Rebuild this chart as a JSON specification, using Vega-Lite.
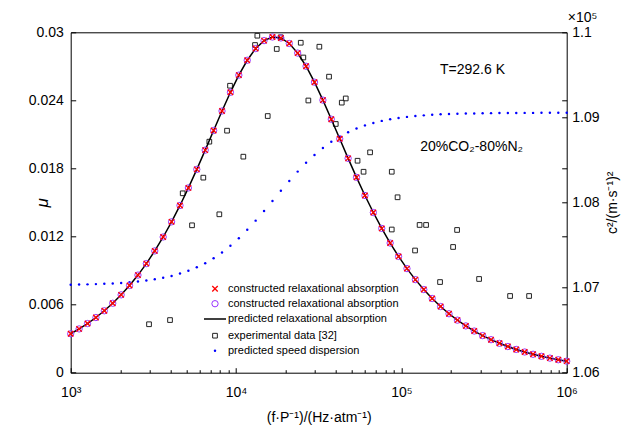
{
"$schema": "https://vega.github.io/schema/vega-lite/v6.json",
"width": 496, "height": 340.4,
"autosize": {"type": "none"},
"padding": {"left": 70.7, "top": 32.3, "right": 60.3, "bottom": 57.3},
"title": {"text": "×10⁵", "anchor": "end", "align": "left", "frame": "group", "dx": 1, "offset": 0, "fontSize": 14, "fontWeight": "normal", "font": "Liberation Sans", "color": "black"},
"datasets": {
"model": [
{"f":1000,"mu":0.003434,"c2":1.07034},{"f":1124.2,"mu":0.003858,"c2":1.07036},{"f":1263.8,"mu":0.004332,"c2":1.07038},{"f":1420.8,"mu":0.004863,"c2":1.07041},{"f":1597.3,"mu":0.005457,"c2":1.07045},{"f":1795.7,"mu":0.006121,"c2":1.07049},{"f":2018.8,"mu":0.006862,"c2":1.07055},{"f":2269.5,"mu":0.007687,"c2":1.07063},{"f":2551.4,"mu":0.008603,"c2":1.07072},{"f":2868.3,"mu":0.009616,"c2":1.07083},
{"f":3224.6,"mu":0.010734,"c2":1.07098},{"f":3625.1,"mu":0.01196,"c2":1.07115},{"f":4075.4,"mu":0.013296,"c2":1.07137},{"f":4581.6,"mu":0.01474,"c2":1.07165},{"f":5150.7,"mu":0.016286,"c2":1.07198},{"f":5790.5,"mu":0.017918,"c2":1.07238},{"f":6509.7,"mu":0.019616,"c2":1.07287},{"f":7318.3,"mu":0.021345,"c2":1.07345},{"f":8227.3,"mu":0.023063,"c2":1.07413},{"f":9249.2,"mu":0.024711,"c2":1.07491},
{"f":10398,"mu":0.026225,"c2":1.0758},{"f":11690,"mu":0.027535,"c2":1.07679},{"f":13142,"mu":0.028569,"c2":1.07787},{"f":14774,"mu":0.029266,"c2":1.07901},{"f":16609,"mu":0.029584,"c2":1.08018},{"f":18672,"mu":0.029498,"c2":1.08137},{"f":20991,"mu":0.029015,"c2":1.08253},{"f":23599,"mu":0.028168,"c2":1.08363},{"f":26530,"mu":0.027009,"c2":1.08466},{"f":29825,"mu":0.025604,"c2":1.08558},
{"f":33530,"mu":0.024025,"c2":1.08641},{"f":37695,"mu":0.02234,"c2":1.08713},{"f":42377,"mu":0.020612,"c2":1.08774},{"f":47640,"mu":0.018891,"c2":1.08826},{"f":53557,"mu":0.017217,"c2":1.0887},{"f":60210,"mu":0.015619,"c2":1.08906},{"f":67688,"mu":0.014116,"c2":1.08935},{"f":76096,"mu":0.012716,"c2":1.08959},{"f":85548,"mu":0.011427,"c2":1.08978},{"f":96173,"mu":0.010248,"c2":1.08994},
{"f":108119,"mu":0.009175,"c2":1.09006},{"f":121548,"mu":0.008203,"c2":1.09016},{"f":136646,"mu":0.007327,"c2":1.09024},{"f":153618,"mu":0.006539,"c2":1.09031},{"f":172699,"mu":0.005831,"c2":1.09036},{"f":194150,"mu":0.005197,"c2":1.0904},{"f":218265,"mu":0.004631,"c2":1.09043},{"f":245376,"mu":0.004124,"c2":1.09045},{"f":275854,"mu":0.003672,"c2":1.09047},{"f":310118,"mu":0.003269,"c2":1.09049},
{"f":348637,"mu":0.00291,"c2":1.0905},{"f":391941,"mu":0.00259,"c2":1.09051},{"f":440624,"mu":0.002305,"c2":1.09052},{"f":495354,"mu":0.002051,"c2":1.09052},{"f":556882,"mu":0.001825,"c2":1.09053},{"f":626052,"mu":0.001623,"c2":1.09053},{"f":703814,"mu":0.001444,"c2":1.09054},{"f":791234,"mu":0.001285,"c2":1.09054},{"f":889512,"mu":0.001143,"c2":1.09054},{"f":1000000,"mu":0.001017,"c2":1.09055}
],
"exp": [
{"f":2977,"mu":0.00427},{"f":3988,"mu":0.00464},{"f":4758,"mu":0.01581},{"f":5418,"mu":0.01299},{"f":6341,"mu":0.01719},{"f":6894,"mu":0.02036},{"f":7925,"mu":0.01396},{"f":8822,"mu":0.02133},{"f":9199,"mu":0.02529},{"f":11070,"mu":0.01904},
{"f":13029,"mu":0.02888},{"f":13455,"mu":0.0297},{"f":15550,"mu":0.02262},{"f":17630,"mu":0.02853},{"f":18640,"mu":0.02956},{"f":24630,"mu":0.02908},{"f":25530,"mu":0.02778},{"f":27380,"mu":0.02399},{"f":31910,"mu":0.02873},{"f":36520,"mu":0.02609},
{"f":40100,"mu":0.02192},{"f":43600,"mu":0.0238},{"f":46090,"mu":0.02417},{"f":54330,"mu":0.01868},{"f":59060,"mu":0.01771},{"f":64680,"mu":0.01942},{"f":87480,"mu":0.01771},{"f":94840,"mu":0.01546},{"f":87480,"mu":0.01262},{"f":121000,"mu":0.01077},
{"f":128900,"mu":0.01302},{"f":141100,"mu":0.01302},{"f":171400,"mu":0.00799},{"f":205500,"mu":0.01108},{"f":217300,"mu":0.01258},{"f":295200,"mu":0.00826},{"f":454600,"mu":0.00676},{"f":592400,"mu":0.00676}
],
"notes": [
{"f":269300,"mu":0.02668,"label":"T=292.6 K"},
{"f":265900,"mu":0.01989,"label":"20%CO₂-80%N₂"}
]
},
"layer": [
{
"data": {"name": "exp"},
"mark": {"type": "point", "shape": "square", "filled": false, "size": 22, "strokeWidth": 1, "opacity": 1},
"encoding": {
"x": {"field": "f", "type": "quantitative",
"scale": {"type": "log", "domain": [1000, 1000000], "nice": false},
"axis": {"values": [1000,2000,3000,4000,5000,6000,7000,8000,9000,10000,20000,30000,40000,50000,60000,70000,80000,90000,100000,200000,300000,400000,500000,600000,700000,800000,900000,1000000],
"labelExpr": "datum.value == 1000 ? '10³' : datum.value == 10000 ? '10⁴' : datum.value == 100000 ? '10⁵' : datum.value == 1000000 ? '10⁶' : ''",
"tickSize": {"condition": {"test": "datum.value == 1000 || datum.value == 10000 || datum.value == 100000 || datum.value == 1000000", "value": -5}, "value": -3},
"labelPadding": 18, "labelOverlap": false, "labelFlush": false, "domain": false,
"title": "(f·P⁻¹)/(Hz·atm⁻¹)", "titleY": 45, "titleBaseline": "middle"}},
"y": {"field": "mu", "type": "quantitative",
"scale": {"domain": [0, 0.03], "nice": false, "zero": false},
"axis": {"values": [0, 0.006, 0.012, 0.018, 0.024, 0.03], "format": "~g", "tickSize": -5, "labelPadding": 12.4, "domain": false,
"title": "μ", "titleFontStyle": "italic", "titleFontSize": 17, "titleX": -28, "titleY": 170, "titleAngle": 270, "titleBaseline": "middle", "titleAlign": "center"}},
"color": {"datum": "experimental data [32]", "type": "nominal", "scale": {"range": ["#222222"]},
"legend": {"title": null, "orient": "none", "legendX": 138.8, "legendY": 297.9, "symbolType": "square", "symbolSize": 22, "symbolStrokeWidth": 1, "labelOffset": 7.5}}
}
},
{
"data": {"name": "model"},
"mark": {"type": "point", "shape": "circle", "filled": true, "size": 6, "opacity": 1},
"encoding": {
"x": {"field": "f", "type": "quantitative"},
"y": {"field": "c2", "type": "quantitative",
"scale": {"domain": [1.06, 1.1], "nice": false, "zero": false},
"axis": {"orient": "right", "values": [1.06, 1.07, 1.08, 1.09, 1.1], "format": "~g", "tickSize": -5, "labelPadding": 10, "domain": false,
"title": "c²/(m·s⁻¹)²", "titleAngle": 270, "titleX": 46, "titleY": 170, "titleBaseline": "middle", "titleAlign": "center"}},
"color": {"datum": "predicted speed dispersion", "type": "nominal", "scale": {"range": ["#0000ff"]},
"legend": {"title": null, "orient": "none", "legendX": 138.8, "legendY": 312.9, "symbolType": "circle", "symbolSize": 6, "labelOffset": 7.5}}
}
},
{
"data": {"name": "model"},
"mark": {"type": "line", "strokeWidth": 1.5},
"encoding": {
"x": {"field": "f", "type": "quantitative"},
"y": {"field": "mu", "type": "quantitative",
"scale": {"domain": [0, 0.03], "nice": false, "zero": false},
"axis": {"orient": "right", "values": [0.006, 0.012, 0.018, 0.024], "labels": false, "tickSize": -5, "domain": false, "title": null}},
"color": {"datum": "predicted relaxational absorption", "type": "nominal", "scale": {"range": ["#000000"]},
"legend": {"title": null, "orient": "none", "legendX": 132.3, "legendY": 274.7, "symbolType": "stroke", "symbolSize": 484, "symbolStrokeWidth": 1.5, "labelOffset": 1}}
}
},
{
"data": {"name": "model"},
"mark": {"type": "point", "shape": "circle", "filled": false, "size": 40, "strokeWidth": 1, "opacity": 1},
"encoding": {
"x": {"field": "f", "type": "quantitative"},
"y": {"field": "mu", "type": "quantitative", "scale": {"domain": [0, 0.03], "nice": false, "zero": false}, "axis": null},
"color": {"datum": "constructed relaxational absorption", "type": "nominal", "scale": {"range": ["#9933ff"]},
"legend": {"title": null, "orient": "none", "legendX": 138.8, "legendY": 265.9, "symbolType": "circle", "symbolSize": 40, "symbolStrokeWidth": 1, "labelOffset": 7.5}}
}
},
{
"data": {"name": "model"},
"mark": {"type": "point", "shape": "M-1,-1L1,1M-1,1L1,-1", "filled": false, "size": 30, "strokeWidth": 1.3, "opacity": 1},
"encoding": {
"x": {"field": "f", "type": "quantitative"},
"y": {"field": "mu", "type": "quantitative", "scale": {"domain": [0, 0.03], "nice": false, "zero": false}, "axis": null},
"color": {"datum": "constructed relaxational absorption ", "type": "nominal", "scale": {"range": ["#ff0000"]},
"legend": {"title": null, "orient": "none", "legendX": 138.8, "legendY": 250.9, "symbolType": "M-1,-1L1,1M-1,1L1,-1", "symbolSize": 30, "symbolStrokeWidth": 1.3, "labelOffset": 7.5}}
}
},
{
"data": {"name": "notes"},
"mark": {"type": "text", "fontSize": 14, "font": "Liberation Sans", "align": "center", "baseline": "middle", "color": "black"},
"encoding": {
"x": {"field": "f", "type": "quantitative"},
"y": {"field": "mu", "type": "quantitative", "scale": {"domain": [0, 0.03], "nice": false, "zero": false}, "axis": null},
"text": {"field": "label"}
}
}
],
"resolve": {"scale": {"y": "independent", "color": "independent"}},
"config": {
"font": "Liberation Sans",
"view": {"stroke": "black", "strokeWidth": 1},
"axis": {"grid": false, "labelFont": "Liberation Sans", "labelFontSize": 14, "labelColor": "black", "tickColor": "black", "tickWidth": 1, "domainColor": "black", "titleFont": "Liberation Sans", "titleFontSize": 14, "titleFontWeight": "normal", "titleColor": "black"},
"legend": {"labelFont": "Liberation Sans", "labelFontSize": 11, "labelColor": "black", "labelLimit": 300, "padding": 0, "symbolOffset": 0}
}
}
